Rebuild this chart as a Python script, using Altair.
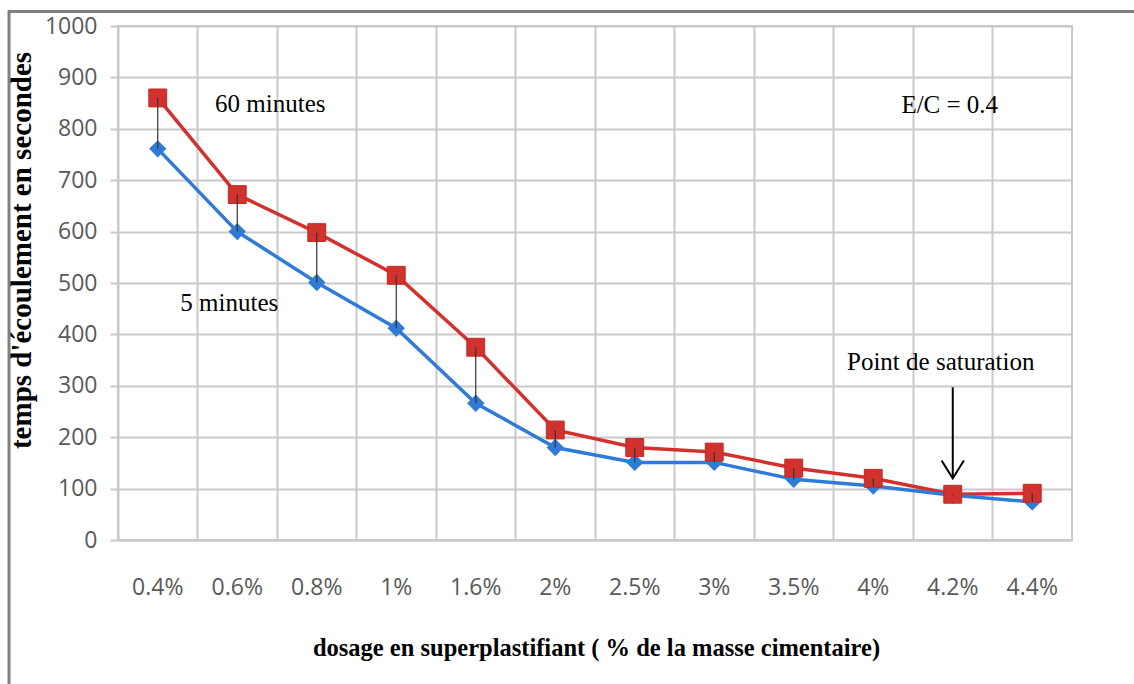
import altair as alt
import pandas as pd

dosages = ["0.4%", "0.6%", "0.8%", "1%", "1.6%", "2%", "2.5%", "3%", "3.5%", "4%", "4.2%", "4.4%"]
t60 = [860, 672, 598, 515, 375, 214, 180, 171, 140, 120, 89, 91]
t5 = [761, 600, 501, 412, 266, 180, 151, 151, 118, 105, 87, 74]

W, H = 954, 514
PL, PT = 118, 26

wide = pd.DataFrame({"dosage": dosages, "t60": t60, "t5": t5})

GRID = "#c9c9c9"
xscale = alt.Scale(type="band", domain=dosages, paddingInner=0, paddingOuter=0)
yscale = alt.Scale(domain=[0, 1000], nice=False)

x_enc = alt.X(
    "dosage:N", scale=xscale, sort=dosages,
    axis=alt.Axis(
        title="dosage en superplastifiant ( % de la masse cimentaire)",
        titleFont="Liberation Serif", titleFontWeight="bold", titleFontSize=24.5,
        titleColor="#000000", titleX=478, titleY=108, titleBaseline="middle",
        titleAlign="center",
        bandPosition=0, ticks=False, tickSize=0,
        labelAngle=0, labelPadding=36, labelFont="Open Sans", labelFontSize=23,
        labelColor="#595959", grid=True, gridColor=GRID, gridWidth=2,
        domainColor=GRID, domainWidth=2,
    ),
)
y_axis = alt.Axis(
    title="temps d'écoulement en secondes", format="d",
    titleFont="Liberation Serif", titleFontWeight="bold", titleFontSize=29,
    titleColor="#000000", titleX=-97, titleY=224, titleAngle=270,
    titleBaseline="middle", titleAlign="center",
    values=list(range(0, 1001, 100)), tickSize=8, tickColor=GRID, tickWidth=2,
    labelPadding=13, labelFont="Open Sans", labelFontSize=23, labelColor="#595959",
    grid=True, gridColor=GRID, gridWidth=2, domain=False,
)

line60 = alt.Chart(wide).mark_line(color="#d2322d", strokeWidth=3.5).encode(
    x=x_enc, y=alt.Y("t60:Q", scale=yscale, axis=y_axis))
line5 = alt.Chart(wide).mark_line(color="#2f7bd6", strokeWidth=3.5).encode(
    x=x_enc, y=alt.Y("t5:Q", scale=yscale))
pts5 = alt.Chart(wide).mark_point(shape="diamond", filled=True, size=300,
                                  color="#2f7bd6", opacity=1).encode(
    x=x_enc, y=alt.Y("t5:Q", scale=yscale))
pts60 = alt.Chart(wide).mark_point(shape="square", filled=True, size=320,
                                   color="#d2322d", stroke="#c02a25", strokeWidth=1,
                                   opacity=1).encode(
    x=x_enc, y=alt.Y("t60:Q", scale=yscale))
drops = alt.Chart(wide).mark_rule(color="#333333", strokeWidth=1.2).encode(
    x=x_enc, y=alt.Y("t60:Q", scale=yscale), y2="t5:Q")

ann_font = dict(font="Liberation Serif", fontSize=25, color="#000000", baseline="middle")
def note(txt, cat, val, dx):
    return alt.Chart(pd.DataFrame({"a": [0]})).mark_text(dx=dx, **ann_font).encode(
        x=alt.datum(cat, scale=xscale), y=alt.datum(val, scale=yscale), text=alt.value(txt))

n60 = note("60 minutes", "0.6%", 848, 33)
n5 = note("5 minutes", "0.6%", 462, -8)
nec = note("E/C = 0.4", "4.2%", 847, -3)
nsat = note("Point de saturation", "4.2%", 346, -12)

arrow_shaft = alt.Chart(pd.DataFrame({"a": [0]})).mark_rule(color="#000000", strokeWidth=2).encode(
    x=alt.datum("4.2%", scale=xscale), y=alt.datum(297, scale=yscale), y2=alt.datum(122))
arrow_head = alt.Chart(pd.DataFrame({"a": [0]})).mark_point(
    shape="M -1 -1.6 L 0 0 L 1 -1.6", filled=False, stroke="#000000", strokeWidth=2,
    size=500, opacity=1).encode(
    x=alt.datum("4.2%", scale=xscale), y=alt.datum(120, scale=yscale))

frame = pd.DataFrame({"a": [0]})
left_border = alt.Chart(frame).mark_rule(color="#808080", strokeWidth=3).encode(
    x=alt.value(9 - PL), y=alt.value(11 - PT), y2=alt.value(684 - PT))
top_border = alt.Chart(frame).mark_rule(color="#808080", strokeWidth=3).encode(
    x=alt.value(8 - PL), x2=alt.value(1134 - PL), y=alt.value(11.5 - PT))

chart = alt.layer(
    line60, line5, pts5, pts60, drops, n60, n5, nec, nsat, arrow_shaft, arrow_head,
    left_border, top_border,
).properties(
    width=W, height=H,
    autosize=alt.AutoSizeParams(type="none"),
    padding={"left": PL, "top": PT, "right": 1134 - PL - W, "bottom": 684 - PT - H},
    background="#ffffff",
).configure_view(stroke=GRID, strokeWidth=2)

chart.save("out.html", embed_options={"renderer": "svg", "actions": False})
